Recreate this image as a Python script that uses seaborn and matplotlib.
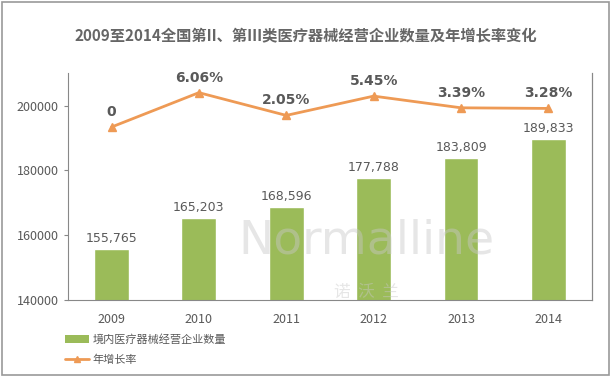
import pandas as pd
import matplotlib.pyplot as plt
import seaborn as sns
from matplotlib.patches import Patch, Rectangle
from matplotlib.lines import Line2D

# data
years = ['2009', '2010', '2011', '2012', '2013', '2014']
counts = [155765, 165203, 168596, 177788, 183809, 189833]
growth = [0, 6.06, 2.05, 5.45, 3.39, 3.28]
growth_labels = ['0', '6.06%', '2.05%', '5.45%', '3.39%', '3.28%']

bar_name = '境内医疗器械经营企业数量'
line_name = '年增长率'
title = '2009至2014全国第II、第III类医疗器械经营企业数量及年增长率变化'

sns.set_style('white')
plt.rcParams['font.family'] = ['Noto Sans CJK SC', 'DejaVu Sans']

green = '#9BBB59'
orange = '#EE9A55'
grey = '#595959'

df = pd.DataFrame({'year': years, 'count': counts, 'growth': growth})

fig = plt.figure(figsize=(6.11, 3.77), dpi=100)
ax = fig.add_axes([0.111, 0.204, 0.858, 0.602])

sns.barplot(data=df, x='year', y='count', color=green, width=0.4, ax=ax,
            saturation=1)
ax.set_ylim(140000, 210000)
ax.set_xlim(-0.5, 5.5)
ax.set_yticks([140000, 160000, 180000, 200000])
ax.set_xlabel('')
ax.set_ylabel('')
ax.tick_params(axis='y', labelsize=9, labelcolor=grey, length=3, color='#888888')
ax.tick_params(axis='x', labelsize=9, labelcolor=grey, length=0, pad=9)
ax.spines['top'].set_visible(False)
for s in ['left', 'bottom', 'right']:
    ax.spines[s].set_color('#888888')
    ax.spines[s].set_linewidth(0.8)

for i, v in enumerate(counts):
    ax.text(i, v + 1200, f'{v:,}', ha='center', va='bottom', fontsize=9,
            color=grey, family='DejaVu Sans')

ax2 = ax.twinx()
ax2.plot(range(len(years)), growth, color=orange, lw=2, marker='^',
         markersize=6)
ax2.set_ylim(-30.5, 9.5)
ax2.set_yticks([])
for s in ['top', 'left', 'bottom']:
    ax2.spines[s].set_visible(False)
ax2.spines['right'].set_color('#888888')
ax2.spines['right'].set_linewidth(0.8)
for i, (v, lab) in enumerate(zip(growth, growth_labels)):
    ax2.text(i, v + 1.4, lab, ha='center', va='bottom', fontsize=10,
             fontweight='semibold', color=grey, family='DejaVu Sans')

# watermark
fig.text(0.60, 0.36, 'Normalline', fontsize=34, color='#c8c8c8', alpha=0.45,
         ha='center', va='center', family='DejaVu Sans')
fig.text(0.60, 0.225, '诺  沃  兰', fontsize=12, color='#c8c8c8', alpha=0.45,
         ha='center', va='center')

fig.text(0.5, 0.905, title, ha='center', va='center', fontsize=11,
         fontweight='bold', color='#666666')

handles = [Patch(facecolor=green, edgecolor='none'),
           Line2D([0], [0], color=orange, lw=2, marker='^', markersize=4)]
fig.legend(handles, [bar_name, line_name], loc='upper left',
           bbox_to_anchor=(0.09, 0.14), frameon=False, fontsize=8,
           labelcolor=grey, handlelength=2.2, handletextpad=0.3,
           labelspacing=0.9)

fig.patches.append(Rectangle((0.003, 0.005), 0.994, 0.99, transform=fig.transFigure,
                             fill=False, edgecolor='#999999', lw=1.2))

fig.savefig('out.png', dpi=100, facecolor='white')
